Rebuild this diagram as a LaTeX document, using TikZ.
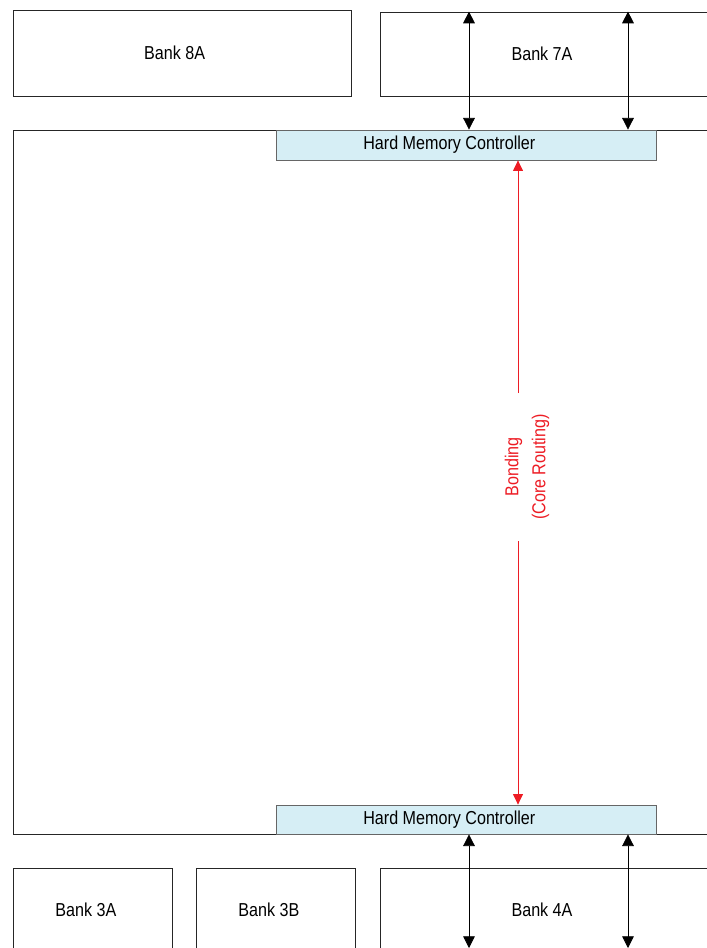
\documentclass[tikz,border=0pt]{standalone}
\usepackage{fontspec}
\setmainfont{Liberation Sans}[FakeStretch=0.86]
\usepackage{xcolor}
\usepackage{tikz}
\usetikzlibrary{positioning, arrows.meta, fit}
\definecolor{hmcblue}{RGB}{214,238,245}
\definecolor{bondred}{RGB}{237,28,36}
\tikzset{
    bankbox/.style  = {draw=black!85, line width=0.7pt, inner sep=0pt},
    banklbl/.style  = {font=\fontsize{16}{19}\selectfont},
    hmcbox/.style   = {bankbox, draw=black!60, fill=hmcblue},
    coreframe/.style = {draw=black!85, line width=0.7pt},
    iolink/.style   = {{Triangle[length=10pt, width=10pt]}-{Triangle[length=10pt, width=10pt]}, line width=0.7pt},
    bondlink/.style = {-{Triangle[length=9pt, width=8.5pt]}, draw=bondred, line width=0.7pt},
    bondtext/.style = {text=bondred, align=center, rotate=90, inner sep=0pt,
                       font=\fontsize{16}{23}\selectfont}
}

\begin{document}
\begin{tikzpicture}[x=0.03cm, y=-0.03cm]
        \useasboundingbox (0,0) rectangle (707,948);
        \clip (0,0) rectangle (707,948);

        % top banks
        \node[bankbox, fit={(13,10) (351,96)},
              label={[banklbl, xshift=-0.22cm]center:Bank 8A}] (b8a) {};
        \node[bankbox, fit={(380,12) (708,96)},
              label={[banklbl, xshift=-0.06cm]center:Bank 7A}] (b7a) {};

        % core
        \draw[coreframe] (13,130) rectangle (710,834);
        \node[hmcbox, fit={(276,130) (656,160)},
              label={[banklbl, xshift=-0.5cm]center:Hard Memory Controller}] (hmctop) {};
        \node[hmcbox, fit={(276,805) (656,834)},
              label={[banklbl, xshift=-0.5cm]center:Hard Memory Controller}] (hmcbot) {};

        % bottom banks
        \node[bankbox, fit={(13,868) (172,952)},
              label={[banklbl, xshift=-0.2cm]center:Bank 3A}] (b3a) {};
        \node[bankbox, fit={(196,868) (355,952)},
              label={[banklbl, xshift=-0.2cm]center:Bank 3B}] (b3b) {};
        \node[bankbox, fit={(380,868) (708,952)},
              label={[banklbl, xshift=-0.06cm]center:Bank 4A}] (b4a) {};

        \coordinate (ioa) at (469,0);
        \coordinate (iob) at (628,0);
        \coordinate (bot) at (0,948);
        \draw[iolink] (b7a.north -| ioa) -- (hmctop.north -| ioa);
        \draw[iolink] (b7a.north -| iob) -- (hmctop.north -| iob);
        \draw[iolink] (hmcbot.south -| ioa) -- (bot -| ioa);
        \draw[iolink] (hmcbot.south -| iob) -- (bot -| iob);

        % bonding through core routing
        \node[bondtext] (bond) at (527,467) {Bonding\\(Core Routing)};
        \coordinate (bondup) at (518,393);
        \coordinate (bonddn) at (518,541);
        \draw[bondlink] (bondup) -- (hmctop.south -| bondup);
        \draw[bondlink] (bonddn) -- (hmcbot.north -| bonddn);
    \end{tikzpicture}
\end{document}
